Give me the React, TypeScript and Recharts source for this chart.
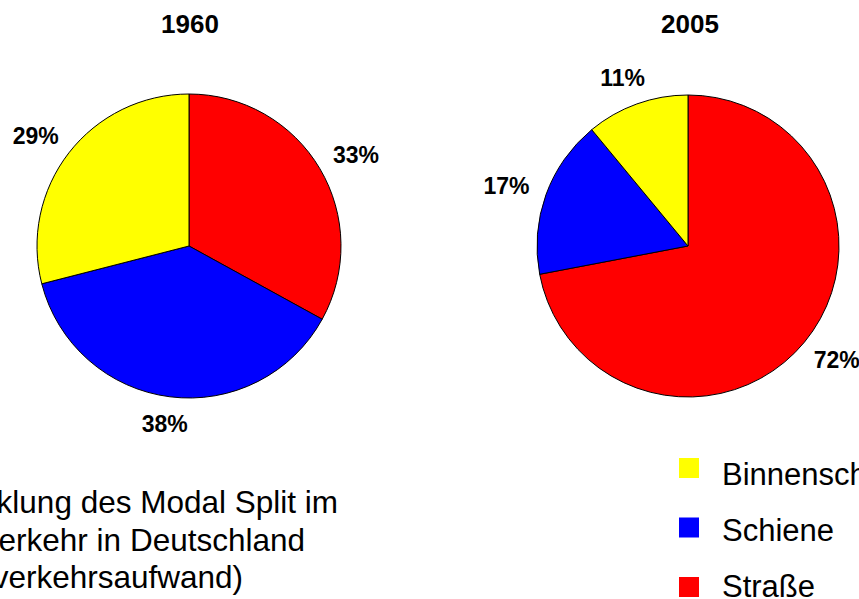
import React from 'react';
import { PieChart, Pie, Cell, Legend } from 'recharts';

const categories = ['Straße', 'Schiene', 'Binnenschiff'];
const colors = ['#ff0000', '#0000ff', '#ffff00'];
const values1960 = [33, 38, 29];
const values2005 = [72, 17, 11];
const years = ['1960', '2005'];
const legendOrder = [2, 1, 0];
const captionLines = [
  'Entwicklung des Modal Split im',
  'Güterverkehr in Deutschland',
  '(Güterverkehrsaufwand)',
];

const data1960 = categories.map((name, i) => ({ name, value: values1960[i] }));
const data2005 = categories.map((name, i) => ({ name, value: values2005[i] }));

const FONT = '"Liberation Sans", Arial, sans-serif';
const RAD = Math.PI / 180;
const LABEL_SIZE = 23;

const renderLabel = (props: any) => {
  const { cx, cy, midAngle, outerRadius, value } = props;
  const r = outerRadius + 19;
  const c = Math.cos(-midAngle * RAD);
  const s = Math.sin(-midAngle * RAD);
  const w = LABEL_SIZE * 2.0;
  const h = 17;
  const x = cx + r * c + (w / 2) * c;
  const y = cy + r * s + (h / 2) * s;
  return (
    <text
      x={x}
      y={y}
      textAnchor="middle"
      dominantBaseline="central"
      fontFamily={FONT}
      fontWeight="bold"
      fontSize={LABEL_SIZE}
      fill="#000"
    >
      {value}%
    </text>
  );
};

const LegendContent = () => (
  <svg width={189} height={159} style={{ display: 'block' }}>
    {legendOrder.map((idx, row) => (
      <g key={categories[idx]}>
        <rect x={9} y={18 + row * 59.5} width={20} height={20} fill={colors[idx]} />
        <text x={52} y={45 + row * 56} fontFamily={FONT} fontSize={31} fill="#000">
          {categories[idx]}
        </text>
      </g>
    ))}
  </svg>
);

export default function App() {
  return (
    <div
      style={{
        position: 'absolute',
        left: 0,
        top: 0,
        width: 859,
        height: 599,
        overflow: 'hidden',
        background: '#fff',
      }}
    >
      <PieChart width={859} height={599} margin={{ top: 0, right: 0, bottom: 0, left: 0 }}>
        <Pie
          data={data1960}
          dataKey="value"
          nameKey="name"
          cx={189}
          cy={246}
          outerRadius={152}
          startAngle={90}
          endAngle={-270}
          stroke="#000"
          strokeWidth={1}
          label={renderLabel}
          labelLine={false}
          isAnimationActive={false}
        >
          {data1960.map((d, i) => (
            <Cell key={d.name} fill={colors[i]} />
          ))}
        </Pie>
        <Pie
          data={data2005}
          dataKey="value"
          nameKey="name"
          cx={688}
          cy={246}
          outerRadius={151}
          startAngle={90}
          endAngle={-270}
          stroke="#000"
          strokeWidth={1}
          label={renderLabel}
          labelLine={false}
          isAnimationActive={false}
        >
          {data2005.map((d, i) => (
            <Cell key={d.name} fill={colors[i]} />
          ))}
        </Pie>
        <Legend
          content={<LegendContent />}
          wrapperStyle={{ position: 'absolute', left: 670, top: 440, width: 189, height: 159, bottom: 'auto' }}
        />
      </PieChart>
      <svg
        width={859}
        height={599}
        style={{ position: 'absolute', left: 0, top: 0, pointerEvents: 'none' }}
      >
        <text x={190} y={33} textAnchor="middle" fontFamily={FONT} fontWeight="bold" fontSize={26} fill="#000">
          {years[0]}
        </text>
        <text x={690} y={33} textAnchor="middle" fontFamily={FONT} fontWeight="bold" fontSize={26} fill="#000">
          {years[1]}
        </text>
        <text x={338} y={513} textAnchor="end" fontFamily={FONT} fontSize={31.5} fill="#000">
          {captionLines[0]}
        </text>
        <text x={305} y={551} textAnchor="end" fontFamily={FONT} fontSize={31.5} fill="#000">
          {captionLines[1]}
        </text>
        <text x={243} y={588} textAnchor="end" fontFamily={FONT} fontSize={31.5} fill="#000">
          {captionLines[2]}
        </text>
      </svg>
    </div>
  );
}
